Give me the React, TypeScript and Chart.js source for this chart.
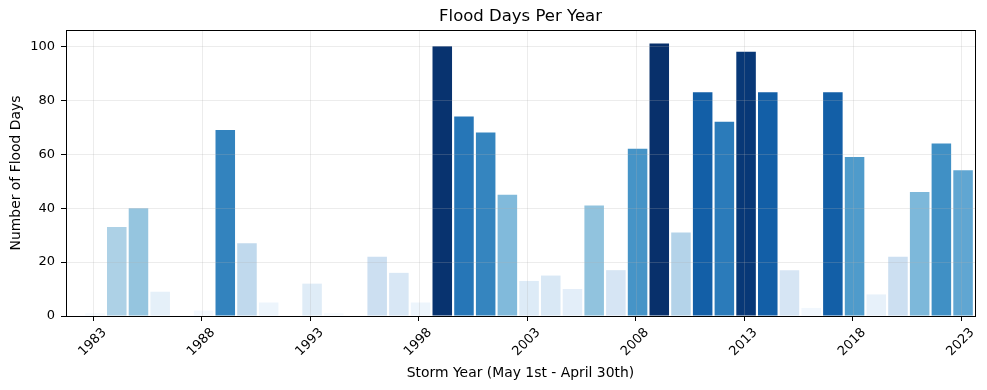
import React, { useEffect, useRef } from 'react';
import { Chart, registerables } from 'chart.js';

Chart.register(...registerables);

const years: number[] = [
  1983, 1984, 1985, 1986, 1987, 1988, 1989, 1990, 1991, 1992, 1993, 1994, 1995, 1996,
  1997, 1998, 1999, 2000, 2001, 2002, 2003, 2004, 2005, 2006, 2007, 2008, 2009, 2010,
  2011, 2012, 2013, 2014, 2015, 2016, 2017, 2018, 2019, 2020, 2021, 2022, 2023,
];
const floodDays: number[] = [
  1, 33, 40, 9, 0, 2, 69, 27, 5, 0, 12, 1, 0, 22,
  16, 5, 100, 74, 68, 45, 13, 15, 10, 41, 17, 62, 101, 31,
  83, 72, 98, 83, 17, 3, 83, 59, 8, 22, 46, 64, 54,
];
const xTickYears: number[] = [1983, 1988, 1993, 1998, 2003, 2008, 2013, 2018, 2023];
const yTickValues: number[] = [0, 20, 40, 60, 80, 100];

const TITLE = 'Flood Days Per Year';
const X_TITLE = 'Storm Year (May 1st - April 30th)';
const Y_TITLE = 'Number of Flood Days';

// small visual shift of tick marks relative to bar centres (as in the reference)
const TICK_SHIFT = 0.08;

// matplotlib "Blues" colormap anchors
const BLUES: [number, number, number][] = [
  [247, 251, 255],
  [222, 235, 247],
  [198, 219, 239],
  [158, 202, 225],
  [107, 174, 214],
  [66, 146, 198],
  [33, 113, 181],
  [8, 81, 156],
  [8, 48, 107],
];

function blues(t: number): string {
  const c = Math.max(0, Math.min(1, t)) * (BLUES.length - 1);
  const i = Math.min(BLUES.length - 2, Math.floor(c));
  const f = c - i;
  const a = BLUES[i];
  const b = BLUES[i + 1];
  const r = Math.round(a[0] + (b[0] - a[0]) * f);
  const g = Math.round(a[1] + (b[1] - a[1]) * f);
  const bl = Math.round(a[2] + (b[2] - a[2]) * f);
  return `rgb(${r},${g},${bl})`;
}

const overlayPlugin = {
  id: 'gridOverlay',
  afterDatasetsDraw(chart: any) {
    const { ctx, chartArea } = chart;
    const { left, right, top, bottom } = chartArea;
    const xs = chart.scales.x;
    const ys = chart.scales.y;
    ctx.save();
    ctx.strokeStyle = 'rgba(176,176,176,0.3)';
    ctx.lineWidth = 0.8;
    xs.ticks.forEach((t: any) => {
      const px = Math.round(xs.getPixelForValue(t.value)) + 0.5;
      ctx.beginPath();
      ctx.moveTo(px, top);
      ctx.lineTo(px, bottom);
      ctx.stroke();
    });
    ys.ticks.forEach((t: any) => {
      const py = Math.round(ys.getPixelForValue(t.value)) + 0.5;
      ctx.beginPath();
      ctx.moveTo(left, py);
      ctx.lineTo(right, py);
      ctx.stroke();
    });
    ctx.strokeStyle = '#000';
    ctx.lineWidth = 1;
    ctx.strokeRect(Math.round(left) + 0.5, Math.round(top) + 0.5, Math.round(right - left), Math.round(bottom - top));
    ctx.restore();
  },
};

export default function App() {
  const canvasRef = useRef<HTMLCanvasElement | null>(null);

  useEffect(() => {
    document.body.style.margin = '0';
    const canvas = canvasRef.current;
    if (!canvas) return;
    const maxVal = Math.max(...floodDays);
    const colors = floodDays.map((v) => blues(v / maxVal));
    const fontFamily = "'DejaVu Sans', sans-serif";

    const chart = new Chart(canvas, {
      type: 'bar',
      data: {
        datasets: [
          {
            label: TITLE,
            data: years.map((yr, i) => ({ x: yr, y: floodDays[i] })),
            backgroundColor: colors,
            borderWidth: 0,
            barPercentage: 0.9,
            categoryPercentage: 1.0,
          },
        ],
      },
      plugins: [overlayPlugin],
      options: {
        responsive: false,
        animation: false,
        devicePixelRatio: 1,
        layout: { padding: { left: 0, right: 12, top: 0, bottom: 0 } },
        plugins: {
          legend: { display: false },
          tooltip: { enabled: false },
          title: {
            display: true,
            text: TITLE,
            fullSize: false,
            color: '#000',
            font: { family: fontFamily, size: 16.5, weight: 'normal' },
            padding: { top: 7, bottom: 3.2 },
          },
        },
        scales: {
          x: {
            type: 'linear',
            min: 1981.66,
            max: 2023.55,
            offset: false,
            afterBuildTicks: (scale: any) => {
              scale.ticks = xTickYears.map((v) => ({ value: v - TICK_SHIFT }));
            },
            afterFit: (scale: any) => {
              scale.height = 74;
            },
            grid: {
              display: true,
              offset: false,
              drawOnChartArea: false,
              drawTicks: true,
              tickLength: 5,
              color: '#000',
              lineWidth: 1,
            },
            border: { display: true, color: '#000', width: 1 },
            ticks: {
              autoSkip: false,
              minRotation: 45,
              maxRotation: 45,
              padding: 4,
              labelOffset: 11,
              color: '#000',
              font: { family: fontFamily, size: 13 },
              callback: (v: any) => String(Math.round(Number(v))),
            },
            title: {
              display: true,
              text: X_TITLE,
              color: '#000',
              font: { family: fontFamily, size: 13.9 },
              padding: { top: 4, bottom: 8 },
            },
          },
          y: {
            type: 'linear',
            min: 0,
            max: 106.05,
            afterBuildTicks: (scale: any) => {
              scale.ticks = yTickValues.map((v) => ({ value: v }));
            },
            afterFit: (scale: any) => {
              scale.width = 66;
            },
            grid: {
              display: true,
              drawOnChartArea: false,
              drawTicks: true,
              tickLength: 5,
              color: '#000',
              lineWidth: 1,
            },
            border: { display: true, color: '#000', width: 1 },
            ticks: {
              padding: 6,
              color: '#000',
              font: { family: fontFamily, size: 13 },
              callback: (v: any) => String(v),
            },
            title: {
              display: true,
              text: Y_TITLE,
              color: '#000',
              font: { family: fontFamily, size: 13.9 },
              padding: { top: 8, bottom: 4 },
            },
          },
        },
      },
    } as any);

    return () => {
      chart.destroy();
    };
  }, []);

  return (
    <div style={{ width: 987, height: 390 }}>
      <canvas ref={canvasRef} width={987} height={390} style={{ display: 'block' }} />
    </div>
  );
}
